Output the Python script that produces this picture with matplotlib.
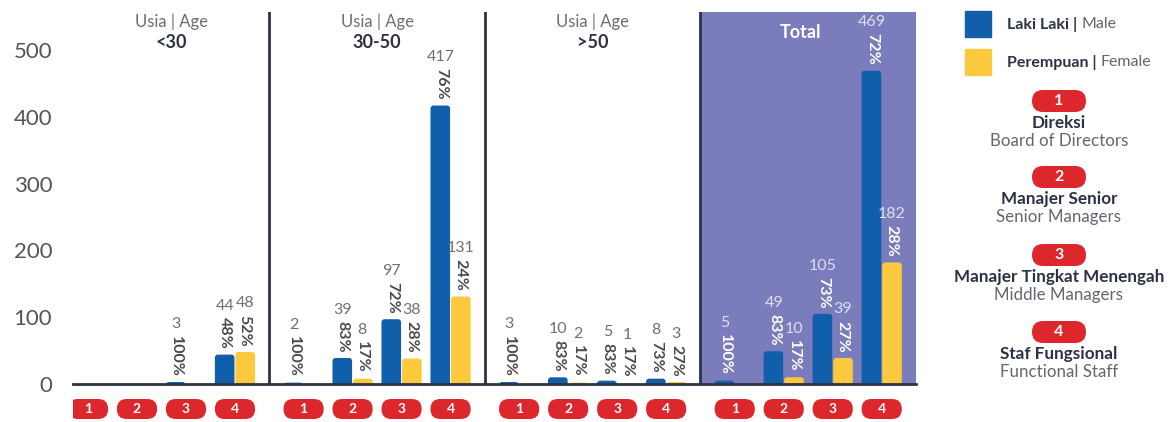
import numpy as np
import matplotlib.pyplot as plt
from matplotlib.patches import FancyBboxPatch, Rectangle

plt.rcParams['font.family'] = ['Lato', 'DejaVu Sans']

# jumlah karyawan per level jabatan (1-4), per kelompok usia
groups = ['<30', '30-50', '>50', 'Total']
levels = ['1', '2', '3', '4']
male_lt30 = [0, 0, 3, 44]
female_lt30 = [0, 0, 0, 48]
male_30_50 = [2, 39, 97, 417]
female_30_50 = [0, 8, 38, 131]
male_gt50 = [3, 10, 5, 8]
female_gt50 = [0, 2, 1, 3]
male_total = [5, 49, 105, 469]
female_total = [0, 10, 39, 182]
y_ticks = [0, 100, 200, 300, 400, 500]

level_id = ['Direksi', 'Manajer Senior', 'Manajer Tingkat Menengah', 'Staf Fungsional']
level_en = ['Board of Directors', 'Senior Managers', 'Middle Managers', 'Functional Staff']

male = [male_lt30, male_30_50, male_gt50, male_total]
female = [female_lt30, female_30_50, female_gt50, female_total]

BLUE = '#115eab'
YELLOW = '#fdc93c'
PURPLE = '#7b7cbb'
RED = '#dc272d'
NAVY = '#2c3245'
GRAY = '#62666e'

W, H = 1171, 422


def frac(x0, y0, x1, y1):
    return [x0 / W, 1 - y1 / H, (x1 - x0) / W, (y1 - y0) / H]


fig = plt.figure(figsize=(W / 100, H / 100), dpi=100)
ax = fig.add_axes(frac(73, 12, 916, 384))

STEP = 4.4
BAR_W = 0.40
XMIN, XMAX = -0.306, 16.9
YMAX = 557
ax.set_xlim(XMIN, XMAX)
ax.set_ylim(0, YMAX)

seps = [(3 + STEP) / 2 + g * STEP for g in range(3)]
edges = [XMIN] + seps + [XMAX]

# panel Total berwarna ungu
ax.axvspan(seps[2], XMAX, color=PURPLE, zorder=0, lw=0)
for s in seps:
    ax.axvline(s, color=NAVY, lw=2, zorder=3)

for sp in ['top', 'right', 'left']:
    ax.spines[sp].set_visible(False)
ax.spines['bottom'].set_color(NAVY)
ax.spines['bottom'].set_linewidth(2)
ax.spines['bottom'].set_zorder(4)
ax.set_xticks([])
ax.set_yticks(y_ticks)
ax.set_yticklabels([str(t) for t in y_ticks], fontsize=16, color='#555555')
ax.tick_params(axis='y', length=0, pad=15)

# sudut atas batang dibulatkan: skala y per piksel dibanding skala x per piksel
px_x = (XMAX - XMIN) / 843
px_y = YMAX / 372
bar_aspect = px_y / px_x


def round_tops(bars):
    for r in bars:
        x0, h, w = r.get_x(), r.get_height(), r.get_width()
        if h <= 0:
            continue
        r.set_visible(False)
        ax.add_patch(FancyBboxPatch((x0, -20), w, h + 20,
                                    boxstyle=f'round,pad=0,rounding_size={3 * px_x}',
                                    mutation_aspect=bar_aspect,
                                    fc=r.get_facecolor(), ec='none', zorder=2))


def add_labels(x, value, pct, in_total):
    pct_color = 'white' if in_total else '#4a4a4a'
    num_color = '#dddff0' if in_total else '#707070'
    t = ax.annotate(f'{pct}%', xy=(x, value), xytext=(0, 4), textcoords='offset points',
                    ha='center', va='bottom', rotation=270, fontsize=11.5,
                    fontweight='bold', color=pct_color)
    ax.annotate(str(value), xy=(0.5, 1), xycoords=t, xytext=(0, 3),
                textcoords='offset points', ha='center', va='bottom',
                fontsize=11.5, color=num_color)


for g in range(4):
    x = g * STEP + np.arange(4)
    m = np.array(male[g])
    f = np.array(female[g])
    round_tops(ax.bar(x - BAR_W / 2 - 0.01, m, BAR_W, color=BLUE, zorder=2))
    round_tops(ax.bar(x + BAR_W / 2 + 0.01, f, BAR_W, color=YELLOW, zorder=2))
    for i in range(4):
        tot = m[i] + f[i]
        if m[i] > 0:
            add_labels(x[i] - BAR_W / 2, m[i], round(100 * m[i] / tot), g == 3)
        if f[i] > 0:
            add_labels(x[i] + BAR_W / 2, f[i], round(100 * f[i] / tot), g == 3)

# judul tiap panel
trans = ax.get_xaxis_transform()
for g in range(4):
    cx = (edges[g] + edges[g + 1]) / 2
    if g < 3:
        ax.text(cx, 0.973, 'Usia | Age', transform=trans, ha='center', va='center',
                fontsize=12, color='#6a6e76')
        ax.text(cx, 0.917, groups[g], transform=trans, ha='center', va='center',
                fontsize=13, fontweight='bold', color=NAVY)
    else:
        ax.text(cx - 0.15, 0.946, groups[g], transform=trans, ha='center', va='center',
                fontsize=13, fontweight='bold', color='white')

# label level (pil merah) di bawah sumbu
pax = fig.add_axes(frac(73, 399, 916, 419))
pax.set_xlim(XMIN, XMAX)
pax.set_ylim(0, 1)
pax.axis('off')
PILL_W = 0.82
aspect = 49 / 20
for g in range(4):
    for i, lv in enumerate(levels):
        cx = g * STEP + i
        pax.add_patch(FancyBboxPatch((cx - PILL_W / 2, 0), PILL_W, 1,
                                     boxstyle='round,pad=0,rounding_size=0.2',
                                     mutation_aspect=aspect, fc=RED, ec='none'))
        pax.text(cx, 0.5, lv, ha='center', va='center', color='white',
                 fontsize=10, fontweight='bold')

# legenda
lax = fig.add_axes(frac(930, 0, 1171, 422))
lax.set_xlim(930, 1171)
lax.set_ylim(422, 0)
lax.axis('off')

for y, col, bold, reg in [(11, BLUE, 'Laki Laki |', 'Male'),
                          (49, YELLOW, 'Perempuan |', 'Female')]:
    lax.add_patch(Rectangle((965, y), 26, 26, color=col))
    t = lax.text(1007, y + 13, bold, ha='left', va='center', fontsize=11.5,
                 fontweight='bold', color=NAVY)
    lax.annotate(reg, xy=(1, 0.5), xycoords=t, xytext=(3, 0), textcoords='offset points',
                 ha='left', va='center', fontsize=11.5, color=GRAY)

for i, cy in enumerate([101, 177, 255, 332]):
    lax.add_patch(FancyBboxPatch((1032, cy - 11), 54, 22,
                                 boxstyle='round,pad=0,rounding_size=11',
                                 fc=RED, ec='none'))
    lax.text(1059, cy, levels[i], ha='center', va='center', color='white',
             fontsize=11.5, fontweight='bold')
    lax.text(1059, cy + 22, level_id[i], ha='center', va='center', fontsize=12.3,
             fontweight='bold', color=NAVY)
    lax.text(1059, cy + 40, level_en[i], ha='center', va='center', fontsize=12.2,
             color=GRAY)

fig.savefig('out.png', dpi=100)
